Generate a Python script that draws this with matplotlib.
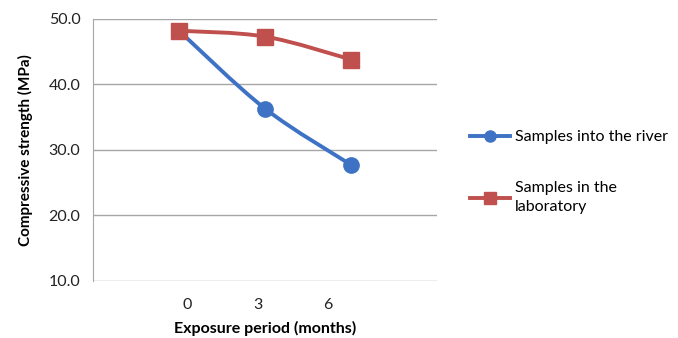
import numpy as np
import matplotlib
matplotlib.use('Agg')
import matplotlib.pyplot as plt
from matplotlib.path import Path
from matplotlib.patches import PathPatch
from matplotlib.lines import Line2D

plt.rcParams.update({
    'font.family': ['Lato', 'DejaVu Sans'],
    'font.size': 10,
})

# Data
categories = ['0', '3', '6']
x_pos = [1, 2, 3]
tick_pos = [1.1, 1.92, 2.73]
river = [48.2, 36.3, 27.7]
laboratory = [48.2, 47.3, 43.8]
y_ticks = [10.0, 20.0, 30.0, 40.0, 50.0]

blue = '#3d72c4'
red = '#c0504d'


def smooth_path(xs, ys):
    # Catmull-Rom style smoothing drawn as cubic Bezier, like Excel's smoothed line
    pts = np.column_stack([xs, ys]).astype(float)
    verts = [pts[0]]
    codes = [Path.MOVETO]
    n = len(pts)
    for i in range(n - 1):
        p0 = pts[i - 1] if i > 0 else pts[i]
        p1, p2 = pts[i], pts[i + 1]
        p3 = pts[i + 2] if i + 2 < n else pts[i + 1]
        c1 = p1 + (p2 - p0) / 6.0
        c2 = p2 - (p3 - p1) / 6.0
        verts += [c1, c2, p2]
        codes += [Path.CURVE4] * 3
    return Path(verts, codes)


fig = plt.figure(figsize=(6.78, 3.38), dpi=100)
ax = fig.add_axes([0.137, 0.169, 0.508, 0.775])

for vals, col, mk, ms in [(river, blue, 'o', 11), (laboratory, red, 's', 11)]:
    ax.add_patch(PathPatch(smooth_path(x_pos, vals), facecolor='none',
                           edgecolor=col, linewidth=2.8, zorder=3))
    ax.plot(x_pos, vals, linestyle='none', marker=mk, markersize=ms,
            color=col, zorder=4)

ax.set_xlim(0, 4)
ax.set_ylim(10, 50)
ax.set_yticks(y_ticks)
ax.set_yticklabels([f'{v:.1f}' for v in y_ticks])
ax.set_xticks(tick_pos)
ax.set_xticklabels(categories)
ax.grid(axis='y', color='#a6a6a6', linewidth=1)
ax.set_axisbelow(True)
for s in ['top', 'right', 'bottom']:
    ax.spines[s].set_visible(False)
ax.spines['left'].set_color('#a6a6a6')
ax.tick_params(length=0, labelsize=11.5, colors='#222222')
ax.tick_params(axis='y', pad=9)
ax.tick_params(axis='x', pad=12)

ax.set_ylabel('Compressive strength (MPa)', fontsize=11, fontweight='bold',
              labelpad=11)
ax.set_xlabel('Exposure period (months)', fontsize=11.5, fontweight='bold',
              labelpad=7)

handles = [
    Line2D([], [], color=blue, linewidth=2.8, marker='o', markersize=8),
    Line2D([], [], color=red, linewidth=2.8, marker='s', markersize=8),
]
leg = fig.legend(handles, ['Samples into the river', 'Samples in the\nlaboratory'],
                 loc='upper left', bbox_to_anchor=(0.672, 0.658), frameon=False,
                 handlelength=2.5, handletextpad=0.3, labelspacing=2.3,
                 fontsize=11.5)
for t in leg.get_texts():
    t.set_linespacing(1.5)

fig.savefig('out.png', dpi=100)
